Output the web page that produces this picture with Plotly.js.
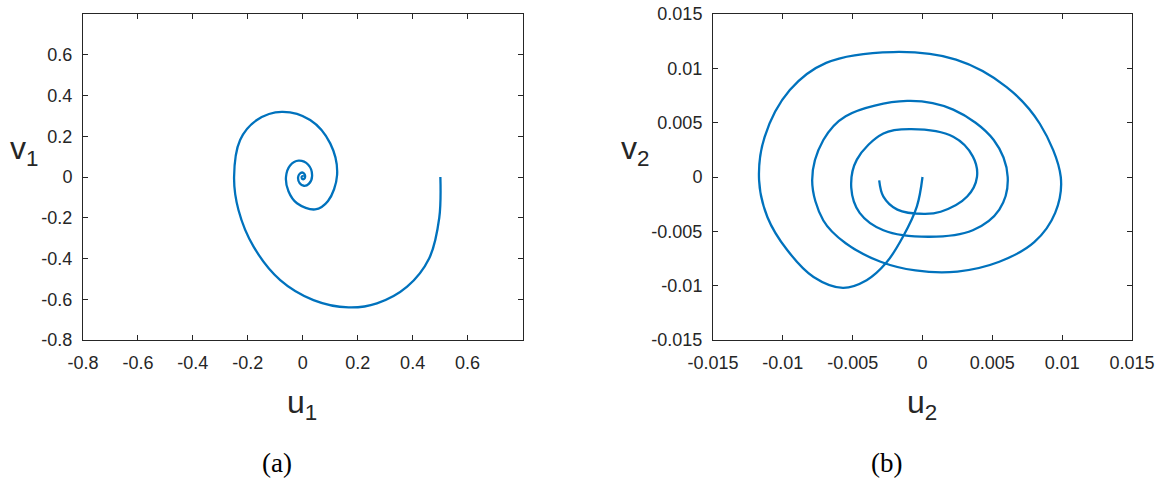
<!DOCTYPE html>
<html>
<head>
<meta charset="utf-8">
<script src="https://cdn.plot.ly/plotly-3.0.1.min.js"></script>
<style>
html, body { margin: 0; padding: 0; background: #ffffff; }
#chart { width: 1159px; height: 480px; }
</style>
</head>
<body>
<div id="chart"></div>
<script>
// Panel (a): u1 vs v1 trajectory
const u1 = [0.501, 0.497, 0.460, 0.380, 0.270, 0.167, 0.039, -0.082, -0.179, -0.234,
  -0.250, -0.228, -0.167, -0.076, 0.027, 0.100, 0.125, 0.092, 0.045, -0.021,
  -0.052, -0.061, -0.046, -0.015, 0.020, 0.034, 0.022, 0.004, -0.011, -0.017,
  -0.011, -0.002, 0.007, 0.0085, 0.005, 0.000, -0.003, -0.004, -0.002, 0.001, 0.002];
const v1 = [0.000, -0.200, -0.400, -0.538, -0.620, -0.640, -0.604, -0.506, -0.342, -0.162,
  0.000, 0.182, 0.280, 0.320, 0.280, 0.165, 0.010, -0.118, -0.159, -0.129,
  -0.070, 0.000, 0.057, 0.080, 0.060, 0.005, -0.034, -0.043, -0.031, -0.002,
  0.016, 0.022, 0.013, 0.000, -0.009, -0.011, -0.007, 0.000, 0.004, 0.004, 0.001];

// Panel (b): u2 vs v2 trajectory
const u2 = [0.0000, -0.0004, -0.0014, -0.0026, -0.0040, -0.0057, -0.0078, -0.0097, -0.0111, -0.0117,
  -0.0113, -0.0095, -0.0069, -0.0021, 0.0024, 0.0060, 0.0084, 0.0099, 0.0095, 0.0080,
  0.0055, 0.0025, -0.0005, -0.0030, -0.0055, -0.0071, -0.0079, -0.0071, -0.0055, -0.0011, 0.0022,
  0.0051, 0.0061, 0.0055, 0.0036, 0.0005, -0.0028, -0.0045, -0.0051, -0.0047, -0.0028,
  -0.0008, 0.0022, 0.0036, 0.0039, 0.0032, 0.0013, 0.0001, -0.0018, -0.0028, -0.0031];
const v2 = [0.0000, -0.0027, -0.0055, -0.0079, -0.0095, -0.0102, -0.0092, -0.0067, -0.0037, -0.0003,
  0.0037, 0.0080, 0.0105, 0.0115, 0.0108, 0.0083, 0.0049, 0.0000, -0.0033, -0.0060,
  -0.0078, -0.0087, -0.0086, -0.0078, -0.0061, -0.0040, -0.0003, 0.0034, 0.0056, 0.0070, 0.0062,
  0.0034, 0.0000, -0.0030, -0.0049, -0.0055, -0.0049, -0.0033, -0.0010, 0.0016, 0.0040,
  0.0044, 0.0037, 0.0019, 0.0000, -0.0018, -0.0032, -0.0034, -0.0030, -0.0018, -0.0003];

const ticksA = [-0.8, -0.6, -0.4, -0.2, 0, 0.2, 0.4, 0.6];
const tickTextA = ['-0.8', '-0.6', '-0.4', '-0.2', '0', '0.2', '0.4', '0.6'];
const ticksB = [-0.015, -0.01, -0.005, 0, 0.005, 0.01, 0.015];
const tickTextB = ['-0.015', '-0.01', '-0.005', '0', '0.005', '0.01', '0.015'];

const lineColor = '#0072BD';
const axColor = '#262626';
const tickFont = { family: 'Liberation Sans, Arial, sans-serif', size: 18, color: axColor };

function axis(domain, range, vals, text, anchor) {
  return {
    domain: domain, range: range, anchor: anchor,
    tickmode: 'array', tickvals: vals, ticktext: text,
    ticks: 'inside', ticklen: 5, tickwidth: 1, tickcolor: axColor,
    showline: true, linecolor: axColor, linewidth: 1, mirror: 'ticks',
    showgrid: false, zeroline: false, tickfont: tickFont, ticklabelstandoff: 6,
    fixedrange: true
  };
}

const lineStyle = { color: lineColor, width: 2.3, shape: 'spline', smoothing: 1, simplify: false };
const traces = [
  { x: u1, y: v1, xaxis: 'x', yaxis: 'y', type: 'scatter', mode: 'lines', line: lineStyle, hoverinfo: 'skip' },
  { x: u2, y: v2, xaxis: 'x2', yaxis: 'y2', type: 'scatter', mode: 'lines', line: lineStyle, hoverinfo: 'skip' }
];

const W = 1159, H = 480;
const px = v => v / W, py = v => 1 - v / H;
const titleFont = { family: 'Liberation Sans, Arial, sans-serif', size: 32, color: axColor };
const capFont = { family: 'Liberation Serif, Times New Roman, serif', size: 27, color: '#000000' };

const layout = {
  width: W, height: H,
  margin: { l: 0, r: 0, t: 0, b: 0 },
  paper_bgcolor: '#ffffff', plot_bgcolor: '#ffffff',
  showlegend: false,
  xaxis: axis([px(83), px(522.5)], [-0.8, 0.8], ticksA, tickTextA, 'y'),
  yaxis: axis([py(340), py(14)], [-0.8, 0.8], ticksA, tickTextA, 'x'),
  xaxis2: axis([px(713), px(1132)], [-0.015, 0.015], ticksB, tickTextB, 'y2'),
  yaxis2: axis([py(340), py(14)], [-0.015, 0.015], ticksB, tickTextB, 'x2'),
  annotations: [
    { text: 'u<sub>1</sub>', x: px(302), y: py(404), xref: 'paper', yref: 'paper', showarrow: false, font: titleFont, xanchor: 'center', yanchor: 'middle' },
    { text: 'v<sub>1</sub>', x: px(24), y: py(150), xref: 'paper', yref: 'paper', showarrow: false, font: titleFont, xanchor: 'center', yanchor: 'middle' },
    { text: 'u<sub>2</sub>', x: px(922), y: py(404), xref: 'paper', yref: 'paper', showarrow: false, font: titleFont, xanchor: 'center', yanchor: 'middle' },
    { text: 'v<sub>2</sub>', x: px(635), y: py(150), xref: 'paper', yref: 'paper', showarrow: false, font: titleFont, xanchor: 'center', yanchor: 'middle' },
    { text: '(a)', x: px(277), y: py(463), xref: 'paper', yref: 'paper', showarrow: false, font: capFont, xanchor: 'center', yanchor: 'middle' },
    { text: '(b)', x: px(886), y: py(463), xref: 'paper', yref: 'paper', showarrow: false, font: capFont, xanchor: 'center', yanchor: 'middle' }
  ]
};

Plotly.newPlot('chart', traces, layout, { displayModeBar: false, staticPlot: true });
</script>
</body>
</html>
